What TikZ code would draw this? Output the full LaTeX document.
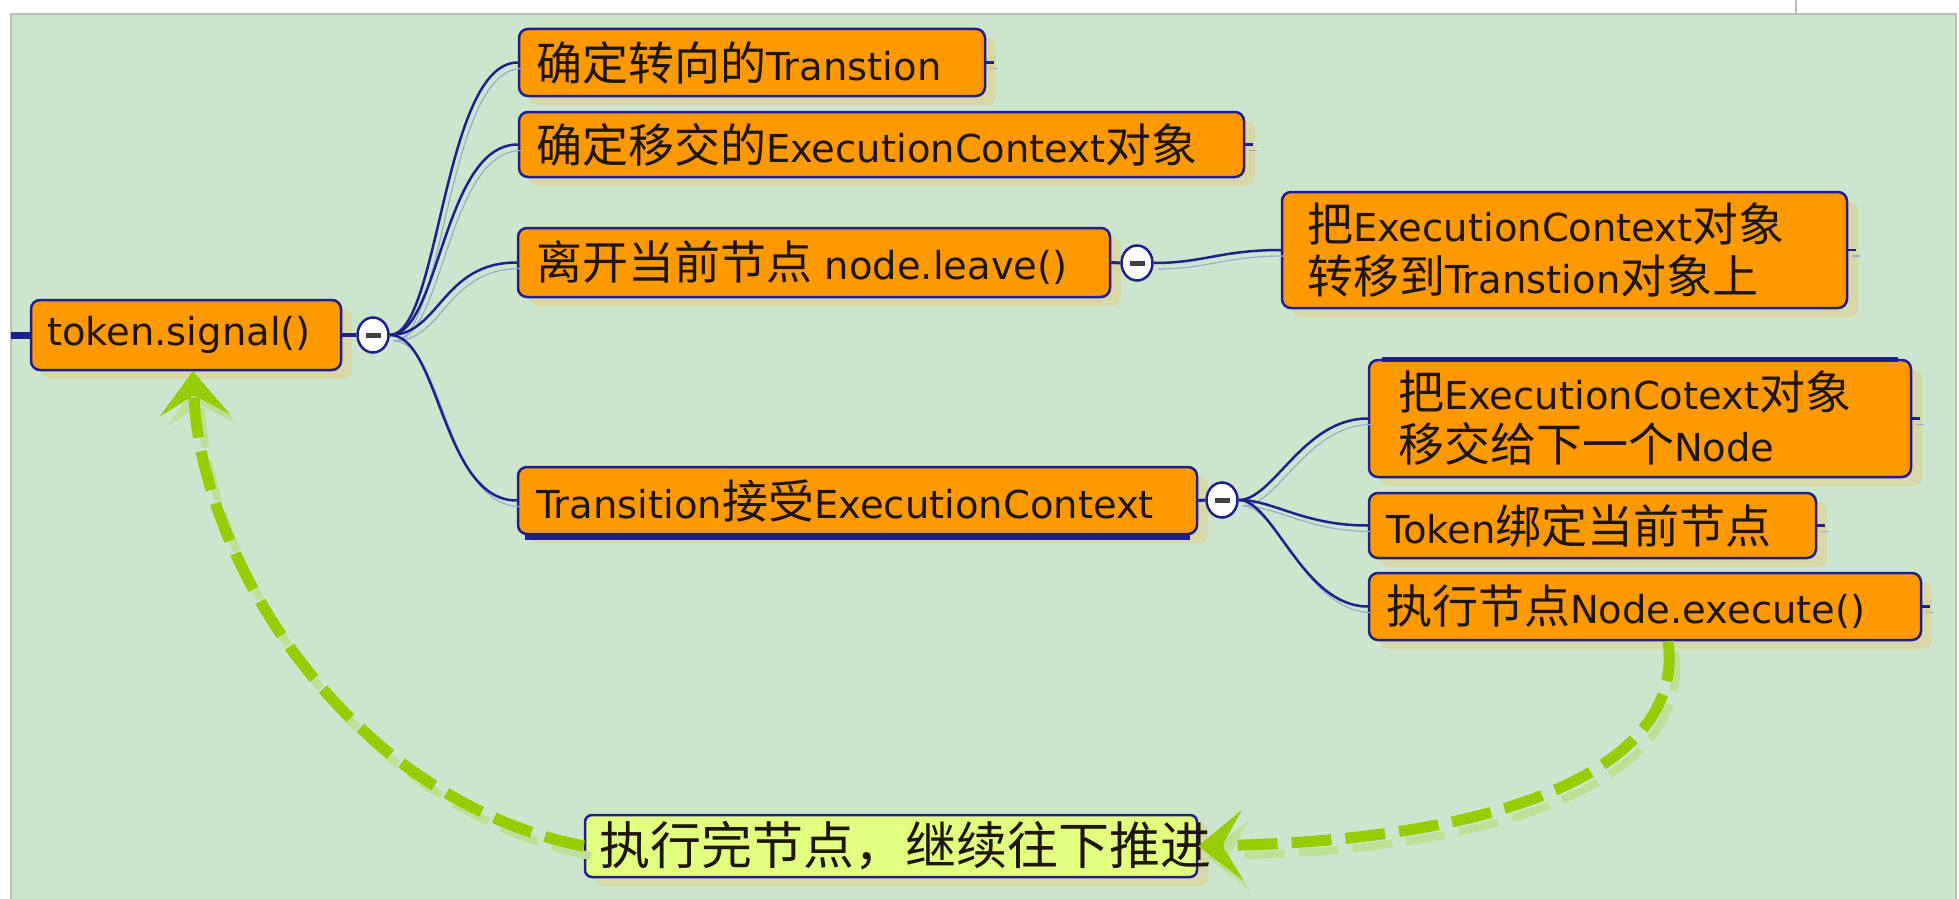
\documentclass[tikz,border=0pt]{standalone}
\usepackage{fontspec}
\setmainfont{DejaVu Sans}
\newfontfamily\cjkf{Noto Sans CJK SC}
\usetikzlibrary{shapes.geometric,arrows.meta,shadows}

\definecolor{panel}{RGB}{204,230,206}
\definecolor{frame}{RGB}{188,190,188}
\definecolor{topicfill}{RGB}{255,153,0}
\definecolor{navy}{RGB}{32,32,140}
\definecolor{boxshade}{RGB}{216,215,168}
\definecolor{linkshade}{RGB}{150,172,205}
\definecolor{flow}{RGB}{150,204,0}
\definecolor{flowshade}{RGB}{188,224,150}
\definecolor{notefill}{RGB}{226,255,128}
\definecolor{ink}{RGB}{30,22,10}

% Chinese runs inside the Latin text
\newcommand\zh[1]{{\cjkf\fontsize{46}{52}\selectfont #1}}
\newcommand\zhbig[1]{{\cjkf\fontsize{51}{56}\selectfont #1}}

\begin{document}
\begin{tikzpicture}[x=1pt, y=-1pt,
  topic/.style={draw=navy, line width=2.5pt, fill=topicfill, rounded corners=9pt,
    inner ysep=0pt, align=left, text=ink, font=\fontsize{38.5}{52}\selectfont,
    drop shadow={shadow xshift=11pt, shadow yshift=-9pt, fill=boxshade, opacity=1}},
  toggle/.style={ellipse, draw=navy, line width=2.5pt, fill=white,
    minimum width=31pt, minimum height=35pt, inner sep=0pt},
  link/.style={draw=navy, line width=2.5pt},
  linkshadow/.style={draw=linkshade, line width=1.2pt, transform canvas={shift={(4,6)}}},
  flowline/.style={draw=flow, line width=11pt, dash pattern=on 40pt off 14pt,
    -{Stealth[length=44pt, width=70pt, inset=20pt]}},
  flowshadow/.style={draw=flowshade, line width=8pt, dash pattern=on 40pt off 14pt,
    -{Stealth[length=44pt, width=70pt, inset=20pt]},
    transform canvas={shift={(7,10)}}},
]
\useasboundingbox (0,0) rectangle (1959,899);

% sheet
\fill[white] (0,0) rectangle (1959,899);
\draw[frame, line width=2pt, fill=panel] (11,14) rectangle (1956,910);
\draw[frame, line width=2pt] (1796,0) -- (1796,14);

% topics
\node[topic, minimum width=310pt, minimum height=70pt, text width=278pt, inner xsep=16pt]
  (tok) at (186,335) {token.signal()};
\node[topic, minimum width=466pt, minimum height=67pt, text width=432pt, inner xsep=17pt]
  (n1) at (752,62.5) {\zh{确定转向的}Transtion};
\node[topic, minimum width=725pt, minimum height=65pt, text width=691pt, inner xsep=17pt]
  (n2) at (881.5,144.5) {\zh{确定移交的}ExecutionContext\zh{对象}};
\node[topic, minimum width=592pt, minimum height=69pt, text width=556pt, inner xsep=18pt]
  (n3) at (814,262.5) {\zh{离开当前节点} node.leave()};
\node[topic, minimum width=679pt, minimum height=67pt, text width=643pt, inner xsep=18pt]
  (n4) at (857.5,500.5) {Transition\zh{接受}ExecutionContext};
\node[topic, minimum width=565pt, minimum height=116pt, text width=515pt, inner xsep=25pt]
  (n5) at (1564.5,250) {\zh{把}ExecutionContext\zh{对象}\\\zh{转移到}Transtion\zh{对象上}};
\node[topic, minimum width=542pt, minimum height=117pt, text width=484pt, inner xsep=29pt]
  (n6) at (1640,418.5) {\zh{把}ExecutionCotext\zh{对象}\\\zh{移交给下一个}Node};
\node[topic, minimum width=447pt, minimum height=65pt, text width=413pt, inner xsep=17pt]
  (n7) at (1592.5,525.5) {Token\zh{绑定当前节点}};
\node[topic, minimum width=552pt, minimum height=67pt, text width=518pt, inner xsep=17pt]
  (n8) at (1645,606.5) {\zh{执行节点}Node.execute()};
\node[topic, fill=notefill, rounded corners=7pt, minimum width=612pt, minimum height=62pt,
  text width=584pt, inner xsep=14pt]
  (n9) at (891,846) {\zhbig{执行完节点，继续往下推进}};

% emphasised edges
\draw[navy, line width=5pt] ([xshift=8pt,yshift=-2pt]n4.south west) -- ([xshift=-8pt,yshift=-2pt]n4.south east);
\draw[navy, line width=5pt] ([xshift=14pt,yshift=-1pt]n6.north west) -- ([xshift=-14pt,yshift=-1pt]n6.north east);

% expand / collapse toggles
\node[toggle] (t0) at (373,335) {\textcolor{black!75}{\rule[-2.5pt]{15pt}{5pt}}};
\node[toggle] (t3) at (1137,263) {\textcolor{black!75}{\rule[-2.5pt]{15pt}{5pt}}};
\node[toggle] (t4) at (1222,500) {\textcolor{black!75}{\rule[-2.5pt]{15pt}{5pt}}};

% branches
\coordinate (stub) at (11,335);
\draw[link, line width=7pt] (stub) -- (tok.west);
\draw[link, line width=4pt] (tok.east) -- (t0.west);
\draw[link, line width=3pt] (n3.east) -- (t3.west);
\draw[link, line width=3pt] (n4.east) -- (t4.west);

\foreach \n in {n1,n2,n3,n4} {
  \draw[linkshadow] (t0.east) .. controls +(50,0) and +(-75,0) .. (\n.west);
  \draw[link] (t0.east) .. controls +(50,0) and +(-75,0) .. (\n.west);
}
\draw[linkshadow] (t3.east) .. controls +(50,0) and +(-60,0) .. (n5.west);
\draw[link] (t3.east) .. controls +(50,0) and +(-60,0) .. (n5.west);
\foreach \n in {n6,n7,n8} {
  \draw[linkshadow] (t4.east) .. controls +(35,0) and +(-65,0) .. (\n.west);
  \draw[link] (t4.east) .. controls +(35,0) and +(-65,0) .. (\n.west);
}

% leaf markers
\foreach \n in {n1,n2,n5,n6,n7,n8} {
  \draw[link] (\n.east) -- +(8,0);
  \draw[linkshadow] (\n.east) -- +(8,0);
}

% flow of control, soft copies first
\draw[flowshadow] ([xshift=23pt]n8.south) .. controls +(17,120) and +(323,-6) .. (n9.east);
\draw[flowshadow] (n9.west) .. controls +(-235,-46) and +(7,188) .. ([xshift=7pt]tok.south);
\draw[flowline] ([xshift=23pt]n8.south) .. controls +(17,120) and +(323,-6) .. (n9.east);
\draw[flowline] (n9.west) .. controls +(-235,-46) and +(7,188) .. ([xshift=7pt]tok.south);
\end{tikzpicture}
\end{document}
